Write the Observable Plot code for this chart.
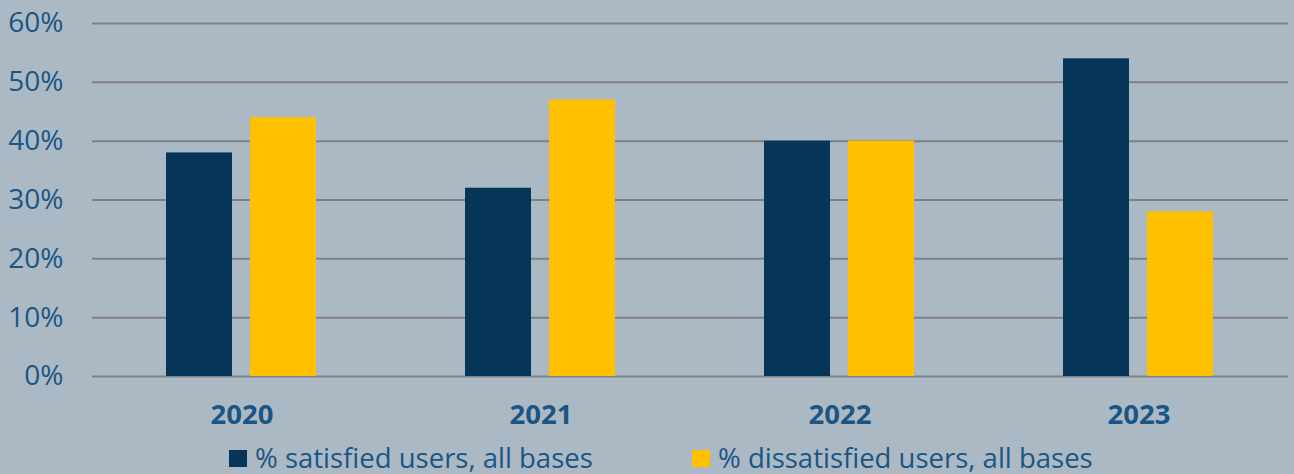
<!DOCTYPE html>
<html>
<head>
<meta charset="utf-8">
<script src="https://cdn.jsdelivr.net/npm/d3@7"></script>
<script src="https://cdn.jsdelivr.net/npm/@observablehq/plot@0.6"></script>
<style>
  html, body { margin: 0; padding: 0; }
  body { width: 1294px; height: 474px; overflow: hidden; background: #abb9c5; font-family: "Open Sans", sans-serif; }
  #wrap { position: relative; width: 1294px; height: 474px; }
  .leg { position: absolute; top: 440px; height: 36px; display: flex; align-items: center; font-size: 27.5px; line-height: 36px; color: #1a5584; white-space: nowrap; }
  .sw { width: 18px; height: 17px; margin-right: 8px; }
</style>
</head>
<body>
<div id="wrap"></div>
<script>
const years = ["2020", "2021", "2022", "2023"];
const seriesNames = ["% satisfied users, all bases", "% dissatisfied users, all bases"];
const satisfied = [38, 32, 40, 54];
const dissatisfied = [44, 47, 40, 28];
const yTicks = [0, 10, 20, 30, 40, 50, 60];
const colors = ["#05365a", "#ffc000"];

const data = [];
years.forEach((y, i) => {
  data.push({year: y, series: seriesNames[0], value: satisfied[i]});
  data.push({year: y, series: seriesNames[1], value: dissatisfied[i]});
});

const textColor = "#1a5584";

const chart = Plot.plot({
  width: 1294,
  height: 440,
  marginLeft: 91,
  marginRight: 6,
  marginTop: 23,
  marginBottom: 64,
  style: {background: "transparent", fontFamily: "'Open Sans', sans-serif", color: textColor, overflow: "visible"},
  fx: {domain: years, padding: 0, label: null, axis: null},
  x: {domain: seriesNames, paddingInner: 0.212, paddingOuter: 0.865, axis: null},
  y: {domain: [0, 60], axis: null},
  color: {domain: seriesNames, range: colors},
  marks: [
    Plot.ruleY(yTicks, {stroke: "#808080", strokeWidth: 2}),
    Plot.barY(data, {fx: "year", x: "series", y: "value", fill: "series"}),
    Plot.axisY({ticks: yTicks, tickSize: 0, tickPadding: 29, tickFormat: d => d + "%", fontSize: 28, fill: textColor, label: null}),
    Plot.axisFx({anchor: "bottom", tickSize: 0, tickPadding: 28, fontSize: 27.5, fontWeight: "bold", fill: textColor, label: null})
  ]
});

const wrap = document.getElementById("wrap");
wrap.appendChild(chart);

const legPos = [229, 692];
seriesNames.forEach((s, i) => {
  const d = document.createElement("div");
  d.className = "leg";
  d.style.left = legPos[i] + "px";
  const sw = document.createElement("div");
  sw.className = "sw";
  sw.style.background = colors[i];
  const t = document.createElement("span");
  t.textContent = s;
  d.appendChild(sw);
  d.appendChild(t);
  wrap.appendChild(d);
});
</script>
</body>
</html>
